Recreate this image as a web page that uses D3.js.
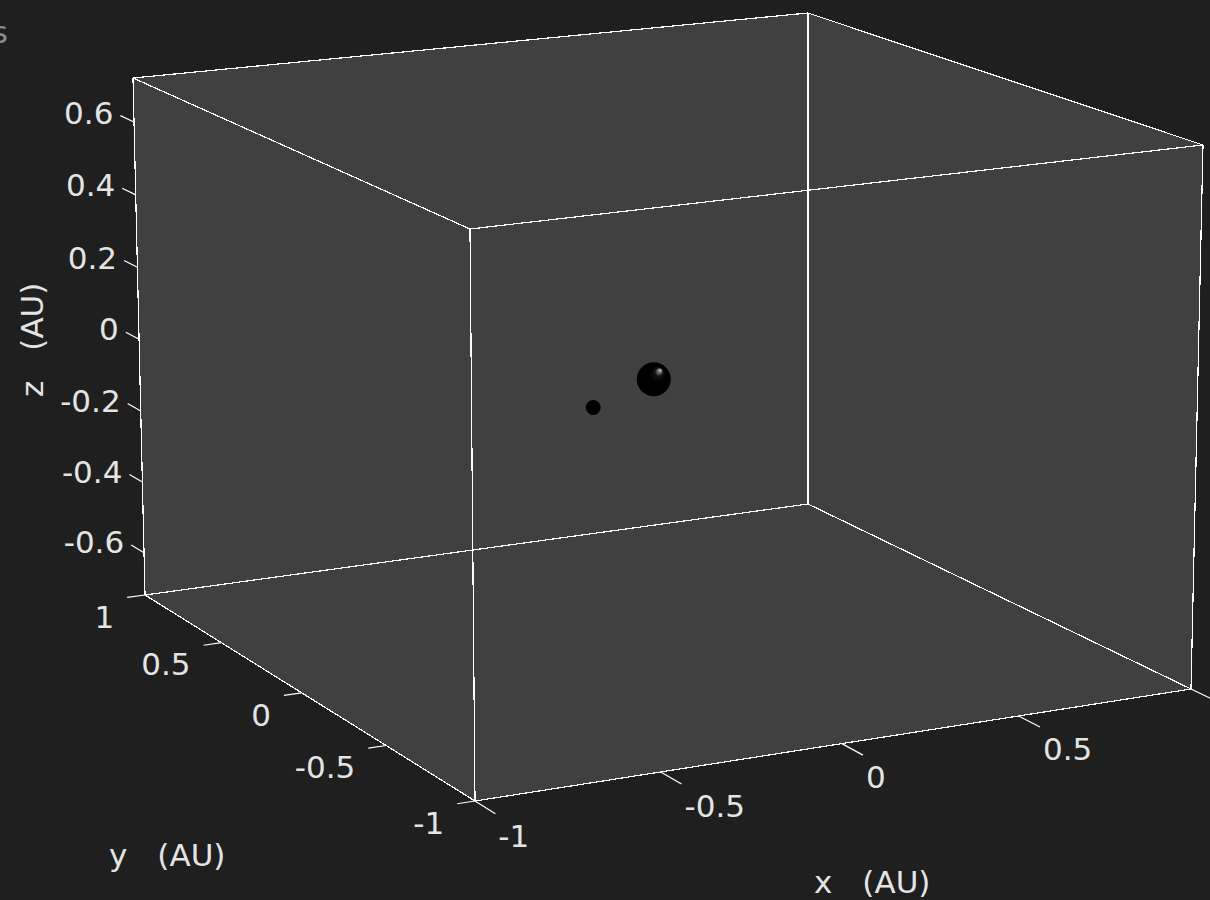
<!DOCTYPE html>
<html><head><meta charset="utf-8">
<script src="https://cdn.jsdelivr.net/npm/d3@7"></script>
<style>html,body{margin:0;padding:0;background:#1f1f1f;overflow:hidden}</style>
</head><body><svg id="c" width="1210" height="900"></svg>
<script>
// ---------------- data ----------------
const xTicks = [-1, -0.5, 0, 0.5, 1];
const xTickLabels = ["-1", "-0.5", "0", "0.5", ""];
const yTicks = [-1, -0.5, 0, 0.5, 1];
const yTickLabels = ["-1", "-0.5", "0", "0.5", "1"];
const zTicks = [-0.6, -0.4, -0.2, 0, 0.2, 0.4, 0.6];
const zTickLabels = ["-0.6", "-0.4", "-0.2", "0", "0.2", "0.4", "0.6"];
const bodyNames = ["Sun", "Mercury"];
const bodyX = [0, -0.27];
const bodyY = [0, -0.19];
const bodyZ = [0, 0];
const xDomain = [-1, 1];
const yDomain = [-1, 1];
const zDomain = [-0.72, 0.72];
const axisTitles = ["x", "y", "z"];
const unitLabel = "(AU)";
const cornerNote = "s";

// ---------------- style / camera frame ----------------
const W = 1210, H = 900;
const BG = "#1f1f1f", PANE = "#404040", EDGE = "#ffffff", TEXT = "#e4e4e4";
const FONT = "DejaVu Sans", FS = 31;
// projective frame: screen position of each corner of the unit cube (i=x, j=y, k=z) and relative depth
const frame = {
  "0,1,1": [133, 78],  "1,1,1": [808, 13],  "1,0,1": [1203, 145], "0,0,1": [470, 229],
  "0,1,0": [145, 595], "1,1,0": [808, 504], "1,0,0": [1191, 689], "0,0,0": [475, 801]
};
const colDepth = {"0,1": 1.106, "1,1": 1.165, "1,0": 1.051, "0,0": 1.0};
const layerDepth = [1.011, 0.989];

const su = d3.scaleLinear().domain(xDomain).range([0, 1]);
const sv = d3.scaleLinear().domain(yDomain).range([0, 1]);
const sw = d3.scaleLinear().domain(zDomain).range([0, 1]);

function project(x, y, z) {
  const u = su(x), v = sv(y), w = sw(z);
  let hx = 0, hy = 0, hd = 0;
  for (let i = 0; i < 2; i++) for (let j = 0; j < 2; j++) for (let k = 0; k < 2; k++) {
    const wt = (i ? u : 1 - u) * (j ? v : 1 - v) * (k ? w : 1 - w);
    const p = frame[i + "," + j + "," + k];
    const d = colDepth[i + "," + j] * layerDepth[k];
    hx += wt * p[0] * d; hy += wt * p[1] * d; hd += wt * d;
  }
  return [hx / hd, hy / hd];
}

const svg = d3.select("#c");
svg.append("rect").attr("width", W).attr("height", H).attr("fill", BG);

const [x0, x1] = xDomain, [y0, y1] = yDomain, [z0, z1] = zDomain;
const line = d3.line();

// back panes
const panes = [
  [[x1, y0, z0], [x1, y1, z0], [x1, y1, z1], [x1, y0, z1]],
  [[x0, y1, z0], [x1, y1, z0], [x1, y1, z1], [x0, y1, z1]],
  [[x0, y0, z0], [x1, y0, z0], [x1, y1, z0], [x0, y1, z0]]
];
svg.append("g").selectAll("path").data(panes).join("path")
  .attr("d", d => line(d.map(p => project(...p))) + "Z")
  .attr("fill", PANE).attr("stroke", PANE).attr("stroke-width", 1);

// bodies
const defs = svg.append("defs");
const grad = defs.append("radialGradient").attr("id", "shine")
  .attr("cx", "50%").attr("cy", "50%").attr("r", "50%").attr("fx", "70%").attr("fy", "22%");
grad.append("stop").attr("offset", "0%").attr("stop-color", "#d0d0d0");
grad.append("stop").attr("offset", "10%").attr("stop-color", "#7a7a7a");
grad.append("stop").attr("offset", "24%").attr("stop-color", "#141414");
grad.append("stop").attr("offset", "45%").attr("stop-color", "#000");
grad.append("stop").attr("offset", "100%").attr("stop-color", "#000");
const bodyRadius = [17, 7.5];
svg.append("g").selectAll("circle").data(bodyNames).join("circle")
  .attr("cx", (d, i) => project(bodyX[i], bodyY[i], bodyZ[i])[0])
  .attr("cy", (d, i) => project(bodyX[i], bodyY[i], bodyZ[i])[1])
  .attr("r", (d, i) => bodyRadius[i])
  .attr("fill", (d, i) => i === 0 ? "url(#shine)" : "#000");

// box edges
const edges = [];
for (const a of [y0, y1]) for (const b of [z0, z1]) edges.push([[x0, a, b], [x1, a, b]]);
for (const a of [x0, x1]) for (const b of [z0, z1]) edges.push([[a, y0, b], [a, y1, b]]);
for (const a of [x0, x1]) for (const b of [y0, y1]) edges.push([[a, b, z0], [a, b, z1]]);
svg.append("g").selectAll("path").data(edges).join("path")
  .attr("d", d => line(d.map(p => project(...p))))
  .attr("stroke", EDGE).attr("stroke-width", 1.2).attr("fill", "none")
  .attr("shape-rendering", "crispEdges");

// ticks helper
function tick(p3, q3, len) {
  const a = project(...p3), b = project(...q3);
  const dx = b[0] - a[0], dy = b[1] - a[1], n = Math.hypot(dx, dy);
  return [a, [a[0] + dx / n * len, a[1] + dy / n * len]];
}
const xt = xTicks.map(t => tick([t, y0, z0], [t, y0 - 0.1, z0], 24));
const yt = yTicks.map(t => tick([x0, t, z0], [x0 - 0.1, t, z0], 18));
const zt = zTicks.map(t => tick([x0, y1, t], [x0, y1 + 0.1, t], 15));
svg.append("g").selectAll("path").data([...xt, ...yt, ...zt]).join("path")
  .attr("d", d => line(d)).attr("stroke", EDGE).attr("stroke-width", 1.2)
  .attr("fill", "none");

const tg = svg.append("g").attr("font-family", FONT).attr("font-size", FS).attr("fill", TEXT);
tg.selectAll("text.xl").data(xTickLabels).join("text").attr("class", "xl")
  .filter(d => d !== "")
  .attr("x", (d, i) => xt[i][1][0] + 3).attr("y", (d, i) => xt[i][1][1] + 22)
  .attr("dy", "0.36em").attr("text-anchor", "start").text(d => d);
tg.selectAll("text.yl").data(yTickLabels).join("text").attr("class", "yl")
  .attr("x", (d, i) => yt[i][1][0] - 13).attr("y", (d, i) => yt[i][1][1] + 19)
  .attr("dy", "0.36em").attr("text-anchor", "end").text(d => d);
tg.selectAll("text.zl").data(zTickLabels).join("text").attr("class", "zl")
  .attr("x", (d, i) => zt[i][1][0] - 7).attr("y", (d, i) => zt[i][1][1] - 3)
  .attr("dy", "0.36em").attr("text-anchor", "end").text(d => d);

// axis titles
function title(g, name) {
  const t = g.append("text").attr("font-family", FONT).attr("font-size", FS).attr("fill", TEXT);
  t.append("tspan").text(name);
  t.append("tspan").attr("dx", 30).text(unitLabel);
  return t;
}
title(svg, axisTitles[0]).attr("x", 814).attr("y", 893);
title(svg, axisTitles[1]).attr("x", 109).attr("y", 866);
title(svg, axisTitles[2]).attr("transform", "translate(43,397) rotate(-90)");

svg.append("text").attr("x", 8).attr("y", 43).attr("text-anchor", "end")
  .attr("font-family", FONT).attr("font-size", FS).attr("fill", "#8c8c8c").text(cornerNote);
</script></body></html>
